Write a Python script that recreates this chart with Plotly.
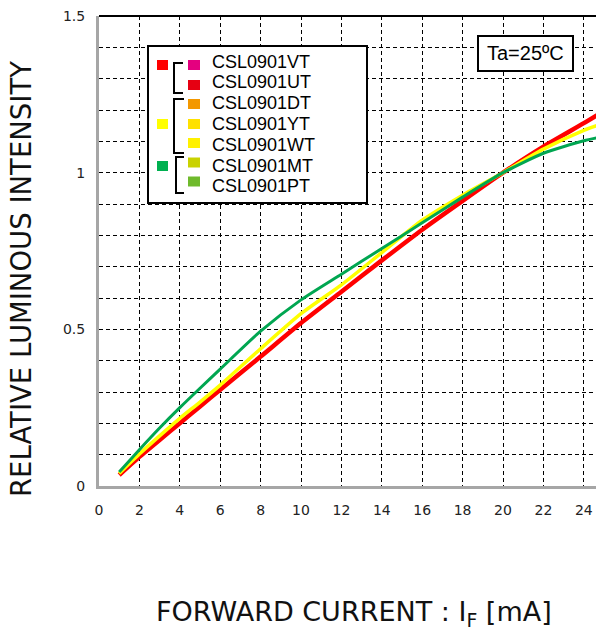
import plotly.graph_objects as go

# ---------------- data ----------------
current_mA = [1, 2, 3, 4, 5, 6, 8, 10, 12, 14, 16, 18, 20, 22, 24, 25]
red_vals = [0.035, 0.093, 0.147, 0.200, 0.254, 0.307, 0.413, 0.520, 0.620, 0.720, 0.818, 0.910, 1.000, 1.083, 1.158, 1.197]
yellow_vals = [0.040, 0.102, 0.160, 0.216, 0.268, 0.322, 0.438, 0.550, 0.642, 0.745, 0.848, 0.928, 1.000, 1.075, 1.135, 1.158]
green_vals = [0.045, 0.116, 0.185, 0.250, 0.312, 0.373, 0.494, 0.594, 0.676, 0.758, 0.840, 0.922, 1.000, 1.062, 1.102, 1.116]

x_ticks = [0, 2, 4, 6, 8, 10, 12, 14, 16, 18, 20, 22, 24]
y_ticks = [0, 0.5, 1, 1.5]
y_tick_text = ["0", "0.5", "1", "1.5"]

legend_names = ["CSL0901VT", "CSL0901UT", "CSL0901DT", "CSL0901YT",
                "CSL0901WT", "CSL0901MT", "CSL0901PT"]
legend_colors = ["#e4007f", "#e60012", "#f39800", "#ffe100",
                 "#fff100", "#c9d200", "#6fba2c"]
group_colors = ["#ff0000", "#ffff00", "#00b050"]

# ---------------- layout geometry (page pixels) ----------------
OFF = 8                      # default body margin of the html page
PAGE_W, PAGE_H = 604, 630
W, H = PAGE_W - OFF, PAGE_H - OFF
L, R, T, B = 99, 604, 16, 486   # plot area in page pixels


def px(xp):
    return (xp - L) / (R - L)


def py(yp):
    return (B - yp) / (B - T)


fig = go.Figure()
fig.add_trace(go.Scatter(x=current_mA, y=red_vals, mode="lines",
                         line=dict(color="#ff0000", width=4.5, shape="spline", smoothing=0.6),
                         hoverinfo="skip"))
fig.add_trace(go.Scatter(x=current_mA, y=yellow_vals, mode="lines",
                         line=dict(color="#ffff00", width=3.5, shape="spline", smoothing=0.6),
                         hoverinfo="skip"))
fig.add_trace(go.Scatter(x=current_mA, y=green_vals, mode="lines",
                         line=dict(color="#00a651", width=3, shape="spline", smoothing=0.6),
                         hoverinfo="skip"))

shapes = []
shapes.append(dict(type="line", xref="paper", yref="paper", x0=0, x1=1, y0=1, y1=1,
                   line=dict(color="black", width=2), layer="above"))
shapes.append(dict(type="rect", xref="paper", yref="paper",
                   x0=px(148), x1=px(367), y0=py(46), y1=py(203),
                   line=dict(color="black", width=2), fillcolor="white", layer="above"))
shapes.append(dict(type="rect", xref="paper", yref="paper",
                   x0=px(478), x1=px(573), y0=py(36), y1=py(71),
                   line=dict(color="black", width=2), fillcolor="white", layer="above"))

group_centers = [65, 124, 166]
for c, yc in zip(group_colors, group_centers):
    shapes.append(dict(type="rect", xref="paper", yref="paper",
                       x0=px(157), x1=px(168), y0=py(yc - 5), y1=py(yc + 5),
                       line=dict(width=0), fillcolor=c, layer="above"))

item_centers = [65, 85, 104, 124, 143, 162.5, 181.5]
for c, yc in zip(legend_colors, item_centers):
    shapes.append(dict(type="rect", xref="paper", yref="paper",
                       x0=px(188), x1=px(200), y0=py(yc - 5), y1=py(yc + 5),
                       line=dict(width=0), fillcolor=c, layer="above"))

brackets = [(174, 183, 63, 93), (174, 184, 99, 153), (176, 184, 157, 193)]
for xv, xt, y0b, y1b in brackets:
    path = "M {a},{b} L {c},{b} L {c},{d} L {a},{d}".format(
        a=px(xt), b=py(y0b), c=px(xv), d=py(y1b))
    shapes.append(dict(type="path", xref="paper", yref="paper", path=path,
                       line=dict(color="black", width=2), layer="above"))

annotations = []
text_centers = [61.7, 81.7, 103, 124, 145, 166, 186]
for name, yc in zip(legend_names, text_centers):
    annotations.append(dict(xref="paper", yref="paper", x=px(210), y=py(yc),
                            xanchor="left", yanchor="middle", text=name, showarrow=False,
                            font=dict(family="Liberation Sans", size=18, color="black")))
annotations.append(dict(xref="paper", yref="paper", x=px(525.5), y=py(53.5),
                        xanchor="center", yanchor="middle", text="Ta=25ºC", showarrow=False,
                        font=dict(family="Liberation Sans", size=20, color="black")))
annotations.append(dict(xref="paper", yref="paper", x=px(354), y=py(613),
                        xanchor="center", yanchor="middle",
                        text="FORWARD CURRENT : I<sub>F</sub> [mA]", showarrow=False,
                        font=dict(family="DejaVu Sans", size=27, color="#111")))
annotations.append(dict(xref="paper", yref="paper", x=px(21), y=py(279),
                        xanchor="center", yanchor="middle", textangle=-90,
                        text="RELATIVE LUMINOUS INTENSITY", showarrow=False,
                        font=dict(family="DejaVu Sans", size=27.5, color="#111")))

grid_style = dict(gridcolor="black", gridwidth=1, griddash="4px,3px")

fig.update_layout(
    width=W, height=H,
    margin=dict(l=L - OFF, r=W - (R - OFF), t=T - OFF, b=H - (B - OFF), pad=0),
    paper_bgcolor="white", plot_bgcolor="white",
    showlegend=False,
    shapes=shapes, annotations=annotations,
    xaxis=dict(range=[0, 25], tickvals=x_ticks, ticktext=[str(v) for v in x_ticks],
               showgrid=True, **grid_style, zeroline=False,
               showline=True, linecolor="#a6a6a6", linewidth=3,
               ticks="", ticklabelstandoff=9, ticklabeloverflow="allow",
               tickfont=dict(family="DejaVu Sans", size=14, color="#222")),
    yaxis=dict(range=[0, 1.5], tickvals=y_ticks, ticktext=y_tick_text,
               showgrid=True, **grid_style, zeroline=False,
               minor=dict(dtick=0.1, tick0=0, showgrid=True, ticks="", **grid_style),
               showline=True, linecolor="#a6a6a6", linewidth=3,
               ticks="", ticklabelstandoff=8, ticklabeloverflow="allow",
               tickfont=dict(family="DejaVu Sans", size=14, color="#222")),
)

fig.write_html("out.html")
